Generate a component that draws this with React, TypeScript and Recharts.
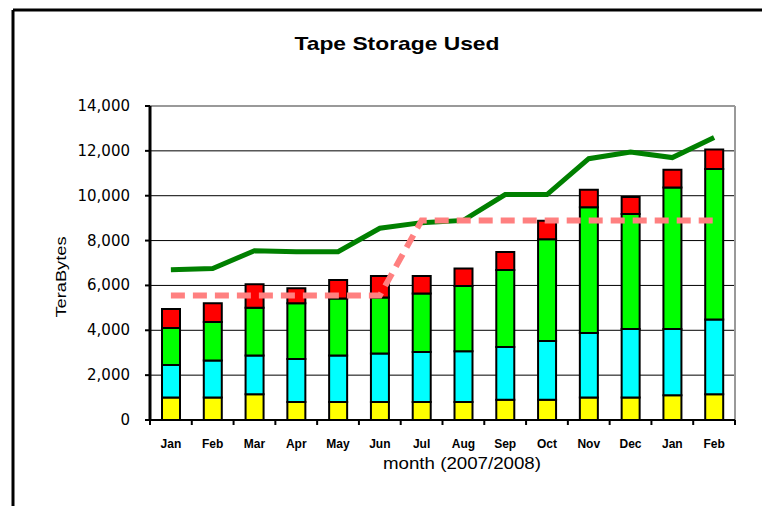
import React from "react";
import {
  ComposedChart,
  Bar,
  Line,
  XAxis,
  YAxis,
  CartesianGrid,
} from "recharts";

// months Jan 2007 .. Feb 2008
const months = ["Jan", "Feb", "Mar", "Apr", "May", "Jun", "Jul", "Aug", "Sep", "Oct", "Nov", "Dec", "Jan", "Feb"];

// stacked tape usage (TB), bottom to top
const yellowTB = [1000, 1000, 1150, 800, 800, 800, 800, 800, 900, 900, 1000, 1000, 1100, 1150];
const cyanTB = [1450, 1650, 1730, 1920, 2080, 2160, 2230, 2260, 2350, 2620, 2880, 3060, 2960, 3330];
const greenTB = [1650, 1720, 2120, 2480, 2540, 2500, 2610, 2910, 3440, 4540, 5610, 5130, 6310, 6710];
const redTB = [850, 830, 1050, 670, 820, 960, 780, 790, 800, 820, 780, 750, 790, 870];

// lines
const capacity = [6700, 6750, 7550, 7500, 7500, 8550, 8800, 8900, 10050, 10050, 11650, 11950, 11700, 12600];
const threshold = [5550, 5550, 5550, 5550, 5550, 5550, 8900, 8900, 8900, 8900, 8900, 8900, 8900, 8900];

const yTicks = [0, 2000, 4000, 6000, 8000, 10000, 12000, 14000];
const boundaryTicks = [0, 1, 2, 3, 4, 5, 6, 7, 8, 9, 10, 11, 12, 13, 14];

const data = months.map((m, i) => ({
  month: m,
  idx: i + 0.5,
  yellow: yellowTB[i],
  cyan: cyanTB[i],
  green: greenTB[i],
  red: redTB[i],
  capacity: capacity[i],
  threshold: threshold[i],
}));

const FONT = "'Liberation Sans', Arial, sans-serif";

function MonthTick(props: any) {
  const { x, y, payload } = props;
  return (
    <text x={x} y={y + 25} textAnchor="middle" fontFamily={FONT} fontWeight="bold" fontSize={12} fill="#000">
      {payload.value}
    </text>
  );
}

function ValueTick(props: any) {
  const { x, y, payload } = props;
  return (
    <text x={x} y={y} dy={5} textAnchor="end" fontFamily="'DejaVu Sans', sans-serif" fontSize={15} fill="#000">
      {Number(payload.value).toLocaleString("en-US")}
    </text>
  );
}

const X = "months";

export default function App() {
  return (
    <div style={{ position: "absolute", left: 0, top: 0, width: 762, height: 506, background: "#fff" }}>
      <ComposedChart
        width={762}
        height={506}
        data={data}
        margin={{ top: 105, right: 26, bottom: 36, left: 90 }}
      >
        <CartesianGrid xAxisId={X} vertical={false} stroke="#000" strokeWidth={1} />
        <XAxis
          xAxisId="top"
          orientation="top"
          dataKey="month"
          height={1}
          tick={false}
          tickLine={false}
          axisLine={{ stroke: "#999", strokeWidth: 2 }}
        />
        <XAxis
          xAxisId="bounds"
          dataKey="idx"
          type="number"
          domain={[0, 14]}
          allowDataOverflow
          ticks={boundaryTicks}
          interval={0}
          height={1}
          tick={() => <g />}
          tickSize={5}
          tickLine={{ stroke: "#000", strokeWidth: 2 }}
          axisLine={false}
        />
        <XAxis
          xAxisId={X}
          dataKey="month"
          height={49}
          interval={0}
          tickLine={false}
          tickSize={0}
          tick={<MonthTick />}
          axisLine={false}
        />
        <YAxis
          domain={[0, 14000]}
          ticks={yTicks}
          width={60}
          tickSize={5}
          tickMargin={15}
          tick={<ValueTick />}
          tickLine={{ stroke: "#000", strokeWidth: 2 }}
          axisLine={{ stroke: "#000", strokeWidth: 3 }}
        />
        <YAxis
          yAxisId="right"
          orientation="right"
          domain={[0, 14000]}
          width={1}
          tick={false}
          tickLine={false}
          axisLine={{ stroke: "#999", strokeWidth: 2 }}
        />
        <Bar xAxisId={X} dataKey="yellow" stackId="s" fill="#ffff00" stroke="#000" strokeWidth={2} barSize={18} isAnimationActive={false} />
        <Bar xAxisId={X} dataKey="cyan" stackId="s" fill="#00ffff" stroke="#000" strokeWidth={2} barSize={18} isAnimationActive={false} />
        <Bar xAxisId={X} dataKey="green" stackId="s" fill="#00ff00" stroke="#000" strokeWidth={2} barSize={18} isAnimationActive={false} />
        <Bar xAxisId={X} dataKey="red" stackId="s" fill="#ff0000" stroke="#000" strokeWidth={2} barSize={18} isAnimationActive={false} />
        <Line
          xAxisId={X}
          type="linear"
          dataKey="capacity"
          stroke="#008000"
          strokeWidth={5}
          dot={false}
          isAnimationActive={false}
        />
        <Line
          xAxisId={X}
          type="linear"
          dataKey="threshold"
          stroke="#ff8080"
          strokeWidth={6}
          strokeDasharray="14 8"
          dot={false}
          isAnimationActive={false}
        />
      </ComposedChart>
      <svg
        width={762}
        height={506}
        style={{ position: "absolute", left: 0, top: 0, pointerEvents: "none" }}
      >
        <line x1={13} y1={10} x2={762} y2={10} stroke="#000" strokeWidth={3} />
        <line x1={13} y1={10} x2={13} y2={506} stroke="#000" strokeWidth={3} />
        <line x1={150} y1={420} x2={735} y2={420} stroke="#000" strokeWidth={2} />
        <text
          x={397}
          y={50}
          textAnchor="middle"
          fontFamily={FONT}
          fontWeight="bold"
          fontSize={19}
          textLength={205}
          lengthAdjust="spacingAndGlyphs"
        >
          Tape Storage Used
        </text>
        <text
          transform="translate(66,277) rotate(-90)"
          textAnchor="middle"
          fontFamily={FONT}
          fontSize={15}
          textLength={81}
          lengthAdjust="spacingAndGlyphs"
        >
          TeraBytes
        </text>
        <text
          x={462}
          y={469}
          textAnchor="middle"
          fontFamily={FONT}
          fontSize={16}
          textLength={158}
          lengthAdjust="spacingAndGlyphs"
        >
          month (2007/2008)
        </text>
      </svg>
    </div>
  );
}
